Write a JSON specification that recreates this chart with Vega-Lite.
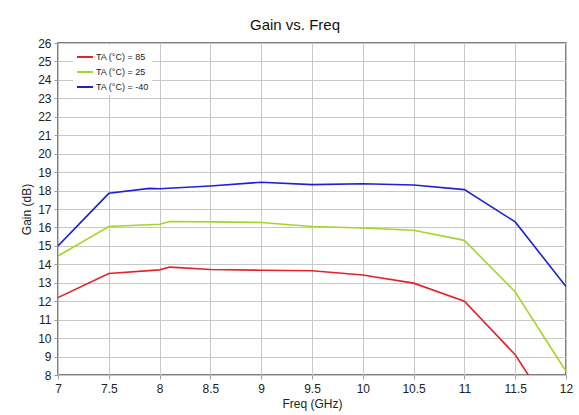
{
  "$schema": "https://vega.github.io/schema/vega-lite/v6.json",
  "autosize": "none",
  "width": 508,
  "height": 332,
  "padding": {"left": 58, "top": 43, "right": 13, "bottom": 40},
  "background": "white",
  "title": {"text": "Gain  vs. Freq", "fontSize": 15, "font": "Liberation Sans", "fontWeight": "normal", "color": "#111", "offset": 4, "dx": -17},
  "config": {
    "view": {"stroke": "#555555", "strokeWidth": 1.5},
    "axis": {"labelFont": "Liberation Sans", "titleFont": "Liberation Sans", "labelFontSize": 12, "titleFontSize": 12, "titleFontWeight": "normal", "labelColor": "#222", "titleColor": "#222", "gridColor": "#c8c8c8", "gridWidth": 1, "gridOpacity": 1, "domain": false, "tickColor": "#999", "tickSize": 4}
  },
  "data": {"values": [
    {"f": 7, "g": 12.2, "t": "TA (°C) = 85"},
    {"f": 7.5, "g": 13.5, "t": "TA (°C) = 85"},
    {"f": 8, "g": 13.7, "t": "TA (°C) = 85"},
    {"f": 8.1, "g": 13.85, "t": "TA (°C) = 85"},
    {"f": 8.5, "g": 13.72, "t": "TA (°C) = 85"},
    {"f": 9, "g": 13.68, "t": "TA (°C) = 85"},
    {"f": 9.5, "g": 13.65, "t": "TA (°C) = 85"},
    {"f": 10, "g": 13.42, "t": "TA (°C) = 85"},
    {"f": 10.5, "g": 12.98, "t": "TA (°C) = 85"},
    {"f": 11, "g": 12.0, "t": "TA (°C) = 85"},
    {"f": 11.5, "g": 9.1, "t": "TA (°C) = 85"},
    {"f": 12, "g": 4.85, "t": "TA (°C) = 85"},
    {"f": 7, "g": 14.45, "t": "TA (°C) = 25"},
    {"f": 7.5, "g": 16.05, "t": "TA (°C) = 25"},
    {"f": 8, "g": 16.17, "t": "TA (°C) = 25"},
    {"f": 8.1, "g": 16.32, "t": "TA (°C) = 25"},
    {"f": 8.5, "g": 16.3, "t": "TA (°C) = 25"},
    {"f": 9, "g": 16.27, "t": "TA (°C) = 25"},
    {"f": 9.5, "g": 16.05, "t": "TA (°C) = 25"},
    {"f": 10, "g": 15.97, "t": "TA (°C) = 25"},
    {"f": 10.5, "g": 15.85, "t": "TA (°C) = 25"},
    {"f": 11, "g": 15.3, "t": "TA (°C) = 25"},
    {"f": 11.5, "g": 12.5, "t": "TA (°C) = 25"},
    {"f": 12, "g": 8.2, "t": "TA (°C) = 25"},
    {"f": 7, "g": 15.0, "t": "TA (°C) = -40"},
    {"f": 7.5, "g": 17.85, "t": "TA (°C) = -40"},
    {"f": 7.9, "g": 18.12, "t": "TA (°C) = -40"},
    {"f": 8, "g": 18.1, "t": "TA (°C) = -40"},
    {"f": 8.5, "g": 18.25, "t": "TA (°C) = -40"},
    {"f": 9, "g": 18.45, "t": "TA (°C) = -40"},
    {"f": 9.5, "g": 18.32, "t": "TA (°C) = -40"},
    {"f": 10, "g": 18.37, "t": "TA (°C) = -40"},
    {"f": 10.5, "g": 18.3, "t": "TA (°C) = -40"},
    {"f": 11, "g": 18.05, "t": "TA (°C) = -40"},
    {"f": 11.5, "g": 16.3, "t": "TA (°C) = -40"},
    {"f": 12, "g": 12.8, "t": "TA (°C) = -40"}
  ]},
  "mark": {"type": "line", "strokeWidth": 1.6, "clip": true},
  "encoding": {
    "x": {"field": "f", "type": "quantitative", "title": "Freq (GHz)",
      "scale": {"domain": [7, 12], "nice": false},
      "axis": {"values": [7, 7.5, 8, 8.5, 9, 9.5, 10, 10.5, 11, 11.5, 12], "format": "~g", "labelPadding": 4, "titlePadding": 4, "labelFlush": false}},
    "y": {"field": "g", "type": "quantitative", "title": "Gain (dB)",
      "scale": {"domain": [8, 26], "nice": false},
      "axis": {"values": [8, 9, 10, 11, 12, 13, 14, 15, 16, 17, 18, 19, 20, 21, 22, 23, 24, 25, 26], "labelPadding": 3, "titlePadding": 4, "labelFlush": false}},
    "color": {"field": "t", "type": "nominal",
      "scale": {"domain": ["TA (°C) = 85", "TA (°C) = 25", "TA (°C) = -40"], "range": ["#e3222b", "#a6d52a", "#1c22d6"]},
      "legend": {"title": null, "orient": "none", "legendX": 15, "legendY": 2, "fillColor": "white", "padding": 3, "symbolType": "stroke", "symbolSize": 256, "symbolStrokeWidth": 2, "labelFont": "Liberation Sans", "labelFontSize": 9, "labelColor": "#222", "rowPadding": 1, "labelOffset": 2}}
  }
}
